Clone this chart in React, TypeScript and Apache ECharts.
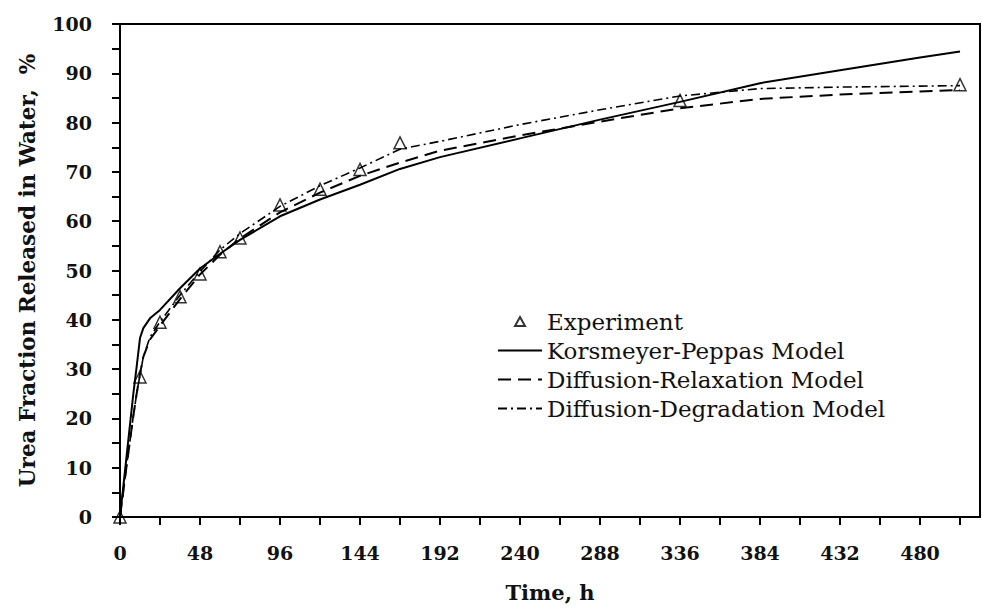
import React, { useEffect, useRef } from 'react';
import * as echarts from 'echarts';

const expTime = [0, 12, 24, 36, 48, 60, 72, 96, 120, 144, 168, 336, 504];
const expValue = [0, 28.4, 39.5, 44.7, 49.3, 53.8, 56.6, 63.3, 66.5, 70.5, 75.9, 84.5, 87.7];

const modelTime = [0, 4, 8, 10, 12, 14, 18, 24, 36, 48, 60, 72, 96, 120, 144, 168, 192, 240, 288, 336, 384, 432, 480, 504];
const korsmeyerPeppas = [0, 12.5, 25, 30.5, 36.3, 38.3, 40.3, 42.0, 46.4, 50.4, 53.4, 56.2, 61.0, 64.4, 67.4, 70.6, 73.0, 76.8, 80.6, 84.2, 88.0, 90.6, 93.2, 94.4];
const diffusionRelaxation = [0, 10.5, 20.5, 25, 29.0, 32.5, 36.0, 38.8, 44.2, 49.2, 53.2, 56.5, 61.8, 65.8, 69.2, 71.9, 74.3, 77.4, 80.2, 82.9, 84.8, 85.7, 86.3, 86.6];
const diffusionDegradation = [0, 10.5, 20.5, 25, 28.8, 32.5, 36.5, 39.6, 45.0, 49.8, 54.2, 57.5, 63.0, 67.2, 70.8, 74.6, 76.2, 79.6, 82.6, 85.4, 86.9, 87.2, 87.4, 87.5];

const seriesNames = ['Experiment', 'Korsmeyer-Peppas Model', 'Diffusion-Relaxation Model', 'Diffusion-Degradation Model'];
const xName = 'Time, h';
const yName = 'Urea Fraction Released in Water,  %';

const FONT = '"DejaVu Serif", serif';
const TEXT = '#111';

export default function App() {
  const ref = useRef<HTMLDivElement>(null);
  useEffect(() => {
    const chart = echarts.init(ref.current!, null, { renderer: 'svg' });
    const pair = (xs: number[], ys: number[]) => xs.map((x, i) => [x, ys[i]]);
    const hiddenDot = { color: 'rgba(0,0,0,0)', borderWidth: 0, opacity: 0 };
    chart.setOption({
      animation: false,
      backgroundColor: '#fff',
      grid: { left: 120, right: 2, top: 24, bottom: 91, show: true, borderColor: '#000', borderWidth: 2 },
      xAxis: {
        type: 'value', min: 0, max: 516, interval: 24,
        name: xName, nameLocation: 'middle', nameGap: 65,
        nameTextStyle: { fontFamily: FONT, fontWeight: 'bold', fontSize: 21, color: TEXT },
        axisLine: { show: true, onZero: false, lineStyle: { color: '#000', width: 2 } },
        axisTick: { show: true, inside: false, length: 8, lineStyle: { color: '#000', width: 2 } },
        axisLabel: {
          margin: 26, fontFamily: FONT, fontWeight: 'bold', fontSize: 19, color: TEXT,
          showMaxLabel: false,
          formatter: (v: number) => (v % 48 === 0 ? String(v) : ''),
        },
        splitLine: { show: false },
      },
      yAxis: {
        type: 'value', min: 0, max: 100, interval: 5,
        name: yName, nameLocation: 'middle', nameGap: 82, nameRotate: 90,
        nameTextStyle: { fontFamily: FONT, fontWeight: 'bold', fontSize: 21.5, color: TEXT },
        axisLine: { show: true, onZero: false, lineStyle: { color: '#000', width: 2 } },
        axisTick: { show: true, inside: false, length: 8, lineStyle: { color: '#000', width: 2 } },
        axisLabel: {
          margin: 28, fontFamily: FONT, fontWeight: 'bold', fontSize: 19, color: TEXT,
          formatter: (v: number) => (v % 10 === 0 ? String(v) : ''),
        },
        splitLine: { show: false },
      },
      legend: {
        orient: 'vertical', left: 497, top: 310, itemWidth: 44, itemHeight: 9, itemGap: 6, padding: 0,
        textStyle: { fontFamily: FONT, fontSize: 23, color: TEXT },
        data: [
          {
            name: seriesNames[0],
            icon: 'path://M5,0 L10,9 L0,9 Z',
            itemStyle: { color: 'rgba(0,0,0,0)', borderColor: '#000', borderWidth: 2 },
          },
          { name: seriesNames[1], itemStyle: hiddenDot },
          { name: seriesNames[2], itemStyle: hiddenDot },
          { name: seriesNames[3], itemStyle: hiddenDot },
        ],
      },
      series: [
        {
          name: seriesNames[1], type: 'line', data: pair(modelTime, korsmeyerPeppas),
          symbol: 'none', showSymbol: false, smooth: false,
          lineStyle: { color: '#000', width: 2, type: 'solid' }, itemStyle: { color: '#000' }, z: 2,
        },
        {
          name: seriesNames[2], type: 'line', data: pair(modelTime, diffusionRelaxation),
          symbol: 'none', showSymbol: false, smooth: false,
          lineStyle: { color: '#000', width: 2, type: [13, 7] }, itemStyle: { color: '#000' }, z: 2,
        },
        {
          name: seriesNames[3], type: 'line', data: pair(modelTime, diffusionDegradation),
          symbol: 'none', showSymbol: false, smooth: false,
          lineStyle: { color: '#000', width: 1.6, type: [9, 4, 2, 4] }, itemStyle: { color: '#000' }, z: 2,
        },
        {
          name: seriesNames[0], type: 'scatter', data: pair(expTime, expValue),
          symbol: 'triangle', symbolSize: 12,
          itemStyle: { color: 'rgba(0,0,0,0)', borderColor: '#000', borderWidth: 1.5 }, z: 5,
        },
      ],
    });
    return () => chart.dispose();
  }, []);
  return <div ref={ref} style={{ position: 'fixed', left: 0, top: 0, width: 982, height: 608 }} />;
}
